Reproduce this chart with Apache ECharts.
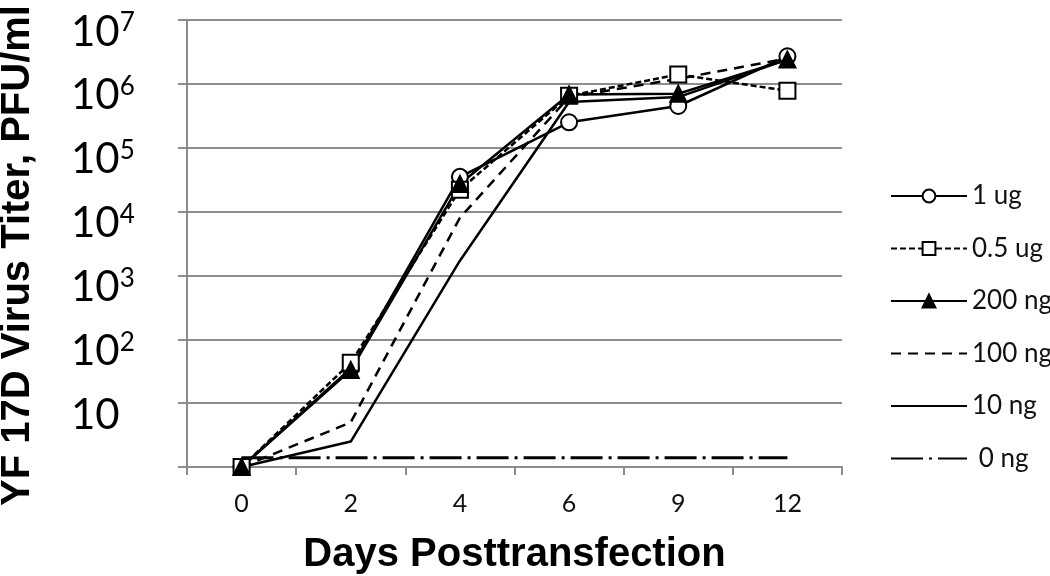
<!DOCTYPE html>
<html>
<head>
<meta charset="utf-8">
<script src="https://cdn.jsdelivr.net/npm/echarts@6/dist/echarts.min.js"></script>
<style>
  html, body { margin: 0; padding: 0; background: #fff; }
  #chart { width: 1050px; height: 576px; }
</style>
</head>
<body>
<div id="chart"></div>
<script>
// days after transfection (category axis)
const days = ['0', '2', '4', '6', '9', '12'];
// y tick labels: exponent of 10 at each decade (blank = no superscript)
const yExp = ['', '', '2', '3', '4', '5', '6', '7'];
const yBase = ['', '10', '10', '10', '10', '10', '10', '10'];

// titers, PFU/ml
const ug1   = [1, 35, 35000, 250000, 450000, 2700000];
const ug05  = [1, 43, 22000, 650000, 1400000, 780000];
const ng200 = [1, 33, 27000, 680000, 700000, 2400000];
const ng100 = [1, 5, 8000, 620000, 1200000, 2500000];
const ng10  = [1, 2.5, 1700, 520000, 620000, 2400000];
const ng0   = [1.4, 1.4, 1.4, 1.4, 1.4, 1.4];

const chart = echarts.init(document.getElementById('chart'));

const mk = (name, data, symbol, dash, width) => ({
  name: name,
  type: 'line',
  data: data,
  symbol: symbol || 'none',
  symbolSize: 16,
  showSymbol: !!symbol,
  z: symbol ? 3 : 2,
  lineStyle: { color: '#000', width: width || 2.5, type: dash || 'solid' },
  itemStyle: {
    color: symbol === 'triangle' ? '#000' : '#fff',
    borderColor: '#000',
    borderWidth: 2
  },
  emphasis: { disabled: true },
  animation: false
});

// lines without markers get an invisible legend symbol
const noMark = { opacity: 0 };

chart.setOption({
  backgroundColor: '#fff',
  animation: false,
  grid: { left: 187, right: 208, top: 20, bottom: 109, outerBoundsMode: 'none' },
  legend: {
    orient: 'vertical',
    left: 885,
    top: 176,
    itemWidth: 76,
    itemHeight: 16,
    itemGap: 22.5,
    textStyle: { fontFamily: 'Lato', fontSize: 26, color: '#111', lineHeight: 30 },
    data: [
      { name: '1 ug' },
      { name: '0.5 ug' },
      { name: '200 ng' },
      { name: '100 ng', itemStyle: noMark },
      { name: '10 ng', itemStyle: noMark },
      { name: ' 0 ng', itemStyle: noMark }
    ]
  },
  xAxis: {
    type: 'category',
    data: days,
    name: 'Days Posttransfection',
    nameLocation: 'middle',
    nameGap: 68,
    nameTextStyle: { fontFamily: 'Liberation Sans', fontWeight: 'bold', fontSize: 40, color: '#000' },
    axisLine: { lineStyle: { color: '#8c8c8c', width: 2 } },
    axisTick: { show: true, interval: 0, length: 8, lineStyle: { color: '#8c8c8c', width: 2 } },
    axisLabel: { fontFamily: 'Lato', fontSize: 25, color: '#111', margin: 24 }
  },
  yAxis: {
    type: 'log',
    logBase: 10,
    min: 1,
    max: 10000000,
    name: 'YF 17D Virus Titer, PFU/ml',
    nameLocation: 'middle',
    nameGap: 149,
    nameTextStyle: {
      fontFamily: 'Liberation Sans', fontWeight: 'bold', fontSize: 40, color: '#000',
      padding: [0, 24, 0, 0]
    },
    axisLine: { show: true, lineStyle: { color: '#8c8c8c', width: 2 } },
    axisTick: { show: true, length: 9, lineStyle: { color: '#8c8c8c', width: 2 } },
    splitLine: { lineStyle: { color: '#8c8c8c', width: 2 } },
    axisLabel: {
      align: 'left',
      margin: 116,
      padding: [24, 0, 0, 0],
      formatter: function (v) {
        const e = Math.round(Math.log10(v));
        if (!yBase[e]) return '';
        return '{b|' + yBase[e] + '}' + (yExp[e] ? '{s|' + yExp[e] + '}' : '');
      },
      rich: {
        b: { fontFamily: 'Lato', fontSize: 42, color: '#000', lineHeight: 44 },
        s: { fontFamily: 'Lato', fontSize: 26, color: '#000', lineHeight: 44, verticalAlign: 'top', padding: [0, 0, 14, 0] }
      }
    }
  },
  series: [
    mk('1 ug', ug1, 'circle'),
    mk('0.5 ug', ug05, 'rect', [6, 3]),
    mk('200 ng', ng200, 'triangle'),
    mk('100 ng', ng100, null, [10, 7]),
    mk('10 ng', ng10, null),
    mk(' 0 ng', ng0, null, [32, 6, 3, 6], 3)
  ]
});
</script>
</body>
</html>
